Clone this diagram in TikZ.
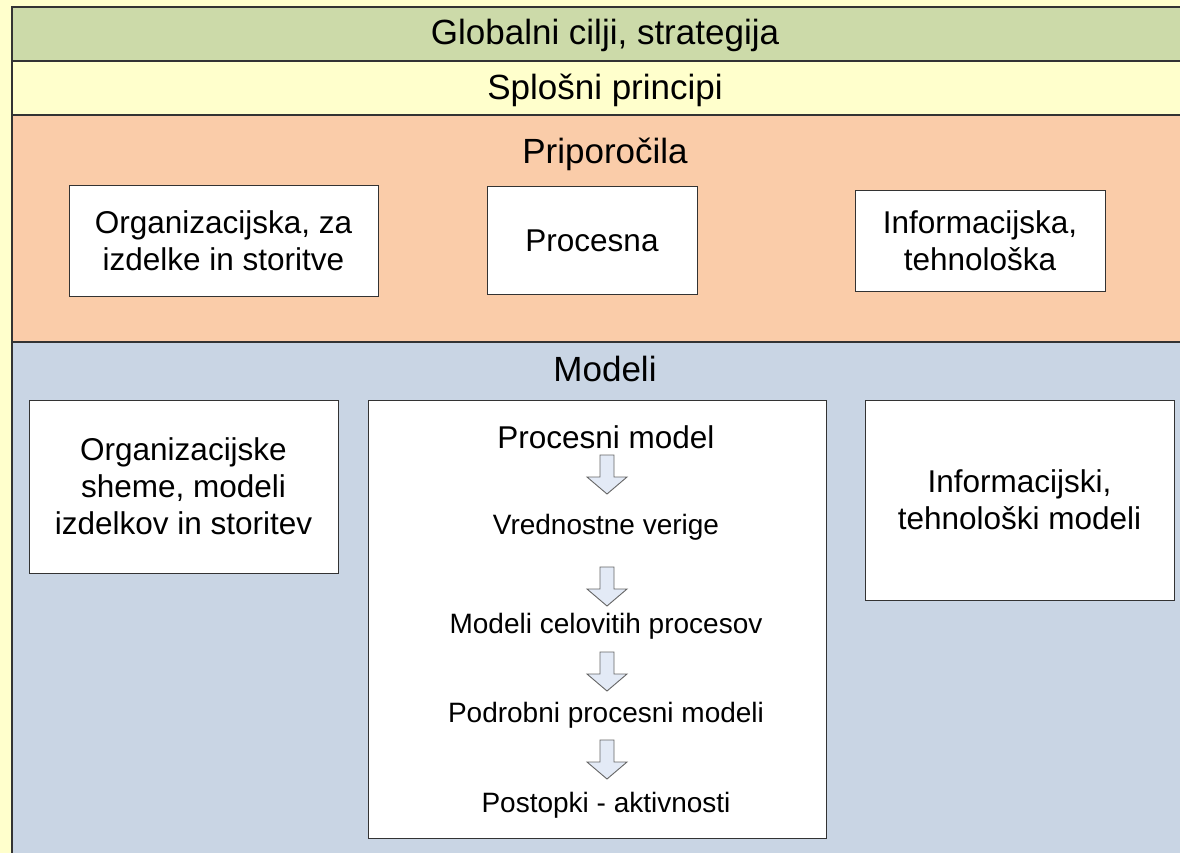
\documentclass[tikz,border=0pt]{standalone}
\usepackage{fontspec}
\setmainfont{Liberation Sans}
\definecolor{bgyellow}{HTML}{FFFFCC}
\definecolor{bandgreen}{HTML}{CCDAA9}
\definecolor{bandorange}{HTML}{FACCA9}
\definecolor{bandblue}{HTML}{C9D5E4}
\definecolor{arrowfill}{HTML}{E3EAF6}
\definecolor{edge}{HTML}{333333}
\tikzset{
  band/.style={draw=edge, line width=1.6pt},
  heading/.style={font=\fontsize{35}{40}\selectfont, inner sep=0pt},
  itembox/.style={draw=edge, line width=1pt, fill=white, align=center, inner sep=0pt,
    font=\fontsize{31.5}{37}\selectfont},
  subitem/.style={font=\fontsize{28}{32}\selectfont, inner sep=0pt},
  blockarrow/.style={draw=black!60, line width=0.9pt, fill=arrowfill, line join=miter}
}
\begin{document}
\begin{tikzpicture}[x=1pt,y=-1pt]
\useasboundingbox (0,0) rectangle (1180,853);
\fill[bgyellow] (0,0) rectangle (1180,853);
% bands
\clip (0,0) rectangle (1180,853);
\draw[band, fill=bandgreen] (12,7) rectangle (1195,61);
\draw[band, fill=bgyellow] (12,61) rectangle (1195,115);
\draw[band, fill=bandorange] (12,115) rectangle (1195,342);
\draw[band, fill=bandblue] (12,342) rectangle (1195,870);
% headings
\node[heading] (global) at (605,35) {Globalni cilji, strategija};
\node[heading] (splosni) at (605,90) {Splošni principi};
\node[heading] (priporocila) at (605,154) {Priporočila};
\node[heading] (modeli) at (605,369) {Modeli};
% recommendation boxes
\node[itembox, minimum width=309, minimum height=110] (org) at (223.5,241)
  {Organizacijska, za\\izdelke in storitve};
\node[itembox, minimum width=210, minimum height=107] (proc) at (592,240.5) {Procesna};
\node[itembox, minimum width=250, minimum height=100] (inf) at (980,241)
  {Informacijska,\\tehnološka};
% model boxes
\node[itembox, minimum width=309, minimum height=173] (orgm) at (183.5,486.5)
  {Organizacijske\\sheme, modeli\\izdelkov in storitev};
\node[itembox, minimum width=458, minimum height=438] (procm) at (597,619) {};
\node[itembox, minimum width=309, minimum height=200] (infm) at (1019.5,500)
  {Informacijski,\\tehnološki modeli};
% process chain
\node[font=\fontsize{31.5}{36}\selectfont, inner sep=0pt] (pm) at (606,437) {Procesni model};
\node[subitem] (vv) at (606,527) {Vrednostne verige};
\node[subitem] (mcp) at (606,626) {Modeli celovitih procesov};
\node[subitem] (ppm) at (606,715) {Podrobni procesni modeli};
\node[subitem] (pa) at (606,805) {Postopki - aktivnosti};
\foreach \t in {455,567,652,740}{
  \draw[blockarrow, shift={(607,\t)}]
    (-7,0) -- (7,0) -- (7,22) -- (20,22) -- (0,39) -- (-20,22) -- (-7,22) -- cycle;
}
\end{tikzpicture}
\end{document}
